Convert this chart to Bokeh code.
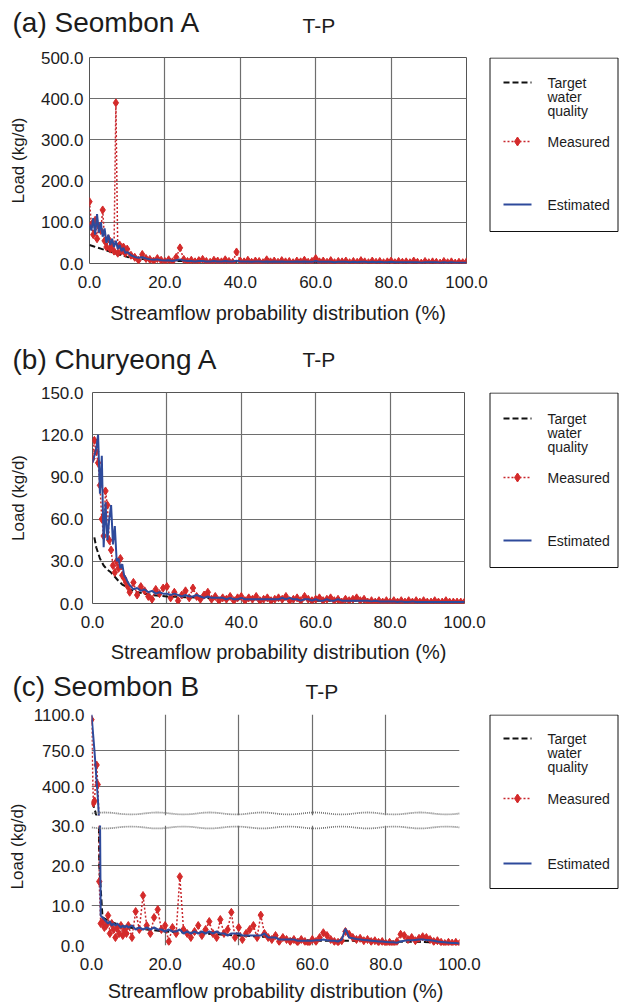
import numpy as np
from bokeh.plotting import figure
from bokeh.layouts import column, row
from bokeh.models import Range1d, FixedTicker, NumeralTickFormatter
from bokeh.core.properties import value
from bokeh.core.validation import silence
from bokeh.core.validation.warnings import MISSING_RENDERERS
from bokeh.embed import file_html
from bokeh.resources import INLINE

silence(MISSING_RENDERERS, True)

FONT = "Liberation Sans"
TEXT = "#1c1c1c"
RED_LINE = "#C8262C"
RED_MARK = "#D42A2A"
BLUE = "#2E4A9B"
GRID = "#6e6e6e"
FRAME = "#555555"

X_TICKS = [0, 20, 40, 60, 80, 100]

# ---------------- streamflow percentiles (%) ----------------
FLOW_AB = [0, 0.5, 1, 1.5, 2, 2.5, 3, 3.5, 4, 4.5, 5, 5.5, 6, 6.5, 7, 7.5, 8, 8.5, 9, 9.5,
           10, 11, 12, 13, 14, 15, 16, 17, 18, 19,
           20, 21, 22, 23, 24, 25, 26, 27, 28, 29,
           30, 31, 32, 33, 34, 35, 36, 37, 38, 39,
           40, 41, 42, 43, 44, 45, 46, 47, 48, 49,
           50, 51, 52, 53, 54, 55, 56, 57, 58, 59,
           60, 61, 62, 63, 64, 65, 66, 67, 68, 69,
           70, 71, 72, 73, 74, 75, 76, 77, 78, 79,
           80, 81, 82, 83, 84, 85, 86, 87, 88, 89,
           90, 91, 92, 93, 94, 95, 96, 97, 98, 99,
           100]

# ---------------- (a) Seombon A, T-P load (kg/d) ----------------
A_MEASURED = [150, 95, 70, 105, 60, 90, 80, 130, 55, 40, 60, 35, 45, 30, 390, 25, 45, 30, 40, 25,
              35, 20, 15, 8, 22, 12, 10, 6, 12, 8,
              5, 9, 4, 15, 38, 10, 5, 8, 4, 7,
              10, 5, 3, 8, 6, 4, 9, 5, 3, 28,
              6, 4, 8, 3, 6, 5, 2, 9, 4, 6,
              3, 7, 4, 5, 2, 6, 4, 8, 3, 5,
              12, 4, 6, 3, 7, 2, 5, 4, 6, 2,
              5, 3, 7, 4, 2, 6, 3, 5, 2, 4,
              6, 2, 5, 3, 4, 2, 6, 3, 1, 5,
              2, 4, 3, 1, 5, 2, 4, 1, 3, 2,
              4]
A_ESTIMATED = [95, 80, 110, 70, 120, 75, 100, 65, 85, 50, 70, 45, 60, 40, 55, 35, 45, 30, 38, 25,
               28, 20, 16, 14, 15, 12, 10, 9, 10, 8,
               7, 8, 6, 8, 10, 7, 6, 6, 5, 6,
               6, 5, 5, 6, 5, 5, 6, 5, 5, 7,
               5, 5, 5, 4, 5, 5, 4, 5, 4, 5,
               4, 5, 4, 4, 4, 5, 4, 5, 4, 4,
               6, 4, 4, 4, 4, 3, 4, 4, 4, 3,
               4, 3, 4, 4, 3, 4, 3, 4, 3, 3,
               4, 3, 3, 3, 3, 3, 3, 3, 2, 3,
               3, 3, 3, 2, 3, 2, 3, 2, 2, 2,
               2]
A_TARGET_X = [0, 1, 2, 3, 4, 5, 6, 7, 8, 9, 10, 12, 14, 16, 18, 20, 25, 30, 40, 50, 60, 70, 80, 90, 100]
A_TARGET = [45, 42, 39, 36, 33, 30, 27, 24, 21, 19, 16, 13, 11, 9, 8, 7, 6, 5, 4, 4, 3, 3, 2, 2, 2]
A_Y_TICKS = [0, 100, 200, 300, 400, 500]

# ---------------- (b) Churyeong A, T-P load (kg/d) ----------------
B_MEASURED = [103, 116, 108, 100, 84, 60, 48, 80, 70, 45, 38, 27, 22, 30, 25, 32, 20, 18, 15, 12,
              8, 15, 6, 12, 9, 5, 3, 10, 7, 11,
              12, 4, 8, 2, 6, 9, 4, 11, 5, 3,
              6, 8, 3, 5, 2, 4, 3, 5, 2, 4,
              5, 2, 4, 3, 5, 2, 3, 4, 2, 3,
              4, 3, 5, 2, 3, 4, 2, 5, 3, 2,
              3, 4, 2, 3, 4, 2, 3, 1, 3, 2,
              3, 4, 2, 3, 1, 2, 1, 2, 1, 2,
              1, 2, 1, 2, 1, 2, 1, 2, 1, 2,
              1, 1, 2, 1, 1, 2, 1, 1, 1, 1,
              1]
B_ESTIMATED = [100, 105, 110, 120, 78, 105, 40, 72, 45, 60, 70, 42, 55, 30, 32, 25, 28, 20, 18, 15,
               13, 10, 11, 9, 10, 8, 9, 7, 8, 7,
               7, 6, 7, 6, 5, 6, 5, 5, 6, 5,
               4, 5, 4, 4, 4, 4, 3, 4, 3, 3,
               4, 3, 3, 3, 3, 3, 3, 3, 3, 3,
               3, 4, 3, 4, 3, 3, 2, 3, 3, 2,
               3, 2, 2, 3, 2, 2, 3, 2, 2, 2,
               2, 2, 2, 2, 2, 1.5, 2, 1.5, 1.5, 1.5,
               1.5, 1.5, 1, 1.5, 1, 1, 1.5, 1, 1, 1,
               1, 1, 1, 1, 1, 1, 1, 1, 1, 1,
               1]
B_TARGET_X = [0.5, 1, 2, 3, 4, 5, 6, 7, 8, 9, 10, 12, 14, 16, 18, 20, 25, 30, 40, 50, 60, 70, 80, 90, 100]
B_TARGET = [47, 40, 32, 27, 24, 22, 19, 16, 13.5, 12, 10, 8, 7, 6, 5.5, 5, 4.5, 4, 3, 3, 2, 2, 1.5, 1, 1]
B_Y_TICKS = [0, 30, 60, 90, 120, 150]

# ---------------- (c) Seombon B, T-P load (kg/d) ----------------
FLOW_C = [0, 0.5, 0.8, 1.4, 1.7, 2.1, 2.5, 3, 3.5, 4, 4.5, 5, 5.5, 6, 6.5, 7, 7.5, 8, 8.5, 9, 9.5,
          10, 11, 12, 13, 14, 15, 16, 17, 18, 19,
          20, 21, 22, 23, 24, 25, 26, 27, 28, 29,
          30, 31, 32, 33, 34, 35, 36, 37, 38, 39,
          40, 41, 42, 43, 44, 45, 46, 47, 48, 49,
          50, 51, 52, 53, 54, 55, 56, 57, 58, 59,
          60, 61, 62, 63, 64, 65, 66, 67, 68, 69,
          70, 71, 72, 73, 74, 75, 76, 77, 78, 79,
          80, 81, 82, 83, 84, 85, 86, 87, 88, 89,
          90, 91, 92, 93, 94, 95, 96, 97, 98, 99,
          100]
C_MEASURED = [1050, 240, 260, 610, 420, 16, 5.5, 6, 4.5, 5, 7.5, 3, 5.5, 4, 2, 4.5, 3, 5, 2.5, 4, 3,
              5, 2, 8.5, 4, 12.5, 5, 3, 7, 9, 4,
              5, 1, 4.5, 3, 17.2, 4, 3, 2, 3.5, 5,
              2.5, 4, 6, 3, 2, 6.5, 3, 4, 8.3, 2,
              4.5, 1.5, 3, 4, 5, 2, 7.6, 3, 2, 1.5,
              2.5, 1, 2, 1.5, 1, 1.5, 0.8, 1.5, 1, 0.5,
              1.5, 1, 2, 3.2, 2.5, 1.5, 1, 0.8, 1.2, 3.5,
              2.8, 2, 1.5, 1.8, 1.2, 1.5, 1, 1.2, 0.8, 1,
              0.5, 0.8, 0.3, 1, 2.8, 2.5, 1.5, 2, 1.2, 1.8,
              2.2, 2, 1.5, 1, 1.2, 0.8, 0.5, 0.8, 0.6, 0.8,
              0.5]
C_ESTIMATED = [1100, 880, 750, 450, 300, 60, 7.5, 7, 6.5, 6, 5.5, 6, 5, 5.5, 5, 5.5, 5, 4.5, 5, 4.5, 5,
               4.5, 5, 4, 4.5, 4, 4.5, 4, 4.5, 4, 4,
               3.5, 4, 3.5, 3.5, 4, 3, 3.5, 3, 3.5, 3,
               3.5, 3, 3.5, 3, 3.5, 3, 3, 2.5, 3, 3,
               3, 2.5, 2.5, 2.5, 2.5, 2.5, 2.5, 3, 2, 2,
               2, 1.5, 1.5, 1.5, 1.5, 1.5, 1.2, 1.2, 1.2, 1.2,
               1.2, 1.3, 1.3, 1.5, 1.3, 1.2, 1.2, 1, 1.5, 4.2,
               2, 1.8, 1.6, 1.5, 1.4, 1.3, 1.2, 1.1, 1, 1,
               0.9, 0.8, 0.8, 0.7, 1, 1.2, 1.3, 1.3, 1.4, 1.5,
               1.5, 1.4, 1.3, 1.2, 1, 0.9, 0.8, 0.7, 0.6, 0.6,
               0.5]
C_TARGET_X = [0.2, 1.1, 2.1, 3, 5, 8, 10, 15, 20, 30, 40, 50, 60, 70, 80, 90, 100]
C_TARGET = [250, 150, 20, 7, 6, 5, 4.5, 4, 3.5, 3, 2.5, 2, 1.2, 1.2, 1, 0.9, 0.5]
C_UPPER_RANGE = (120, 1100)
C_UPPER_TICKS = [400, 750, 1100]
C_LOWER_RANGE = (0, 30)
C_LOWER_TICKS = [0, 10, 20, 30]
C_LOWER_GRID = [0, 10, 20]

LEGEND_TEXT = [["Target", "water", "quality"], "Measured", "Estimated"]

PAGE_W = 622
MAIN_W = 488
LEG_W = PAGE_W - MAIN_W


def blank(width, height, xr, yr, **kw):
    s = figure(width=width, height=height, x_range=xr, y_range=yr,
               x_axis_location=None, y_axis_location=None, toolbar_location=None,
               output_backend="svg", title=None, outline_line_color=None, **kw)
    s.grid.visible = False
    return s


def text_strip(height, items):
    """Strip carrying a panel heading, in top-down pixel coordinates."""
    s = blank(PAGE_W, height, Range1d(0, PAGE_W), Range1d(height, 0), min_border=0)
    for x, y, txt, size in items:
        s.text(x=[x], y=[y], text=[txt], text_font=value(FONT), text_font_size=value(size),
               text_align="left", text_baseline="middle", text_color=TEXT)
    return s


def legend_strip(height, top, bottom, box_bottom, ys):
    """Legend box; its frame shares the plot's vertical borders."""
    frame_h = height - top - bottom
    s = blank(LEG_W, height, Range1d(0, LEG_W), Range1d(frame_h, 0),
              min_border_left=0, min_border_right=0, min_border_top=top, min_border_bottom=bottom)
    s.quad(left=[1.5], right=[129.5], top=[0.5], bottom=[box_bottom],
           fill_color=None, line_color="#111111", line_width=1)
    y_tgt, y_mea, y_est = ys[0], ys[3], ys[4]
    s.line([15, 43], [y_tgt, y_tgt], line_color="#111111", line_width=2, line_dash="6 3")
    s.line([15, 43], [y_mea, y_mea], line_color=RED_LINE, line_width=1.5, line_dash="2 2")
    s.scatter([29], [y_mea], marker="diamond", size=9, fill_color=RED_MARK, line_color=RED_MARK)
    s.line([15, 43], [y_est, y_est], line_color=BLUE, line_width=2)
    words = LEGEND_TEXT[0] + [LEGEND_TEXT[1], LEGEND_TEXT[2]]
    s.text(x=[59] * len(words), y=ys, text=words, text_font=value(FONT),
           text_font_size=value("14px"), text_baseline="middle", text_color=TEXT)
    return s


def chart(width, height, y_rng, yticks, left, right, top, bottom,
          show_x=True, ylabel=None, grid_y=None, outline=True, ystand=6, xlab_stand=7):
    p = figure(width=width, height=height, x_range=Range1d(0, 100), y_range=Range1d(*y_rng),
               toolbar_location=None, output_backend="svg", title=None,
               x_axis_location="below" if show_x else None,
               min_border_left=left, min_border_right=right,
               min_border_top=top, min_border_bottom=bottom)
    p.outline_line_color = FRAME if outline else None
    p.xgrid.ticker = FixedTicker(ticks=X_TICKS)
    p.ygrid.ticker = FixedTicker(ticks=grid_y if grid_y is not None else yticks)
    p.grid.grid_line_color = GRID
    p.grid.grid_line_width = 1.2
    p.yaxis.ticker = FixedTicker(ticks=yticks)
    for ax in p.xaxis:
        ax.ticker = FixedTicker(ticks=X_TICKS)
        ax.axis_label = "Streamflow probability distribution (%)"
        ax.axis_label_text_font_size = "20px"
        ax.major_label_standoff = 12
        ax.axis_label_standoff = xlab_stand
    for ax in p.axis:
        ax.formatter = NumeralTickFormatter(format="0.0")
        ax.major_label_text_font = FONT
        ax.major_label_text_font_size = "17px"
        ax.major_label_text_color = TEXT
        ax.axis_line_color = None
        ax.major_tick_line_color = None
        ax.minor_tick_line_color = None
        ax.major_tick_out = 0
        ax.major_tick_in = 0
        ax.minor_tick_out = 0
        ax.minor_tick_in = 0
        ax.axis_label_text_font = FONT
        ax.axis_label_text_font_style = "normal"
        ax.axis_label_text_color = TEXT
    for ax in p.yaxis:
        ax.major_label_standoff = ystand
        if ylabel:
            ax.axis_label = ylabel
            ax.axis_label_text_font_size = "17px"
            ax.axis_label_standoff = 10
    return p


def draw_series(p, x, measured, estimated, tx, target):
    p.line(tx, target, line_color="#111111", line_width=2, line_dash="6 3")
    p.line(x, measured, line_color=RED_LINE, line_width=1.5, line_dash="2 2")
    p.scatter(x, measured, marker="diamond", size=8, fill_color=RED_MARK, line_color=RED_MARK)
    p.line(x, estimated, line_color=BLUE, line_width=2)


# ---------------- (a) ----------------
title_a = text_strip(40, [(12, 22, "(a) Seombon A", "28px"), (302, 25, "T-P", "21px")])
fig_a = chart(MAIN_W, 295, (0, 500), A_Y_TICKS, 89, MAIN_W - 466, 17, 72,
              ylabel="Load (kg/d)", xlab_stand=11)
draw_series(fig_a, FLOW_AB, A_MEASURED, A_ESTIMATED, A_TARGET_X, A_TARGET)
leg_a = legend_strip(295, 17, 72, 174, [25, 39, 53, 84, 147])

# ---------------- (b) ----------------
title_b = text_strip(40, [(12, 24, "(b) Churyeong A", "28px"), (302, 24, "T-P", "21px")])
fig_b = chart(MAIN_W, 295, (0, 150), B_Y_TICKS, 92, MAIN_W - 464, 17, 67,
              ylabel="Load (kg/d)", ystand=9, xlab_stand=10)
draw_series(fig_b, FLOW_AB, B_MEASURED, B_ESTIMATED, B_TARGET_X, B_TARGET)
leg_b = legend_strip(295, 17, 67, 175, [26, 40, 54, 85, 148])

# ---------------- (c) with a broken y axis ----------------
title_c = text_strip(34, [(12, 16, "(c) Seombon B", "28px"), (305, 21, "T-P", "21px")])
YLAB_W = 28
ROW_C_H = 300
UP_H, UP_TOP, UP_BOTTOM = 112, 10, 1
LOW_H, LOW_TOP, LOW_BOTTOM = ROW_C_H - UP_H, 9, 56
ylab_c = blank(YLAB_W, ROW_C_H, Range1d(0, YLAB_W), Range1d(0, ROW_C_H - UP_TOP - LOW_BOTTOM),
               min_border_left=0, min_border_right=0,
               min_border_top=UP_TOP, min_border_bottom=LOW_BOTTOM)
ylab_c.text(x=[17], y=[102], text=["Load (kg/d)"], angle=np.pi / 2, text_font=value(FONT),
            text_font_size=value("17px"), text_align="center", text_baseline="middle",
            text_color=TEXT)

c_w = MAIN_W - YLAB_W
up_c = chart(c_w, UP_H, C_UPPER_RANGE, C_UPPER_TICKS, 91 - YLAB_W, MAIN_W - 459, UP_TOP, UP_BOTTOM,
             show_x=False, outline=False, ystand=7)
low_c = chart(c_w, LOW_H, C_LOWER_RANGE, C_LOWER_TICKS, 91 - YLAB_W, MAIN_W - 459, LOW_TOP, LOW_BOTTOM,
              grid_y=C_LOWER_GRID, outline=False, ystand=7, xlab_stand=7)
for p in (up_c, low_c):
    draw_series(p, FLOW_C, C_MEASURED, C_ESTIMATED, C_TARGET_X, C_TARGET)

# wavy break marks along the seam between the two y scales
up_frame = UP_H - UP_TOP - UP_BOTTOM
low_frame = LOW_H - LOW_TOP - LOW_BOTTOM
wave_x = np.linspace(-1, 101, 400)
wave = np.sin(wave_x / 100 * 2 * np.pi * 7)
up_px = (C_UPPER_RANGE[1] - C_UPPER_RANGE[0]) / up_frame
low_px = (C_LOWER_RANGE[1] - C_LOWER_RANGE[0]) / low_frame
up_c.line(wave_x, C_UPPER_RANGE[0] + (2 + 1.0 * wave) * up_px,
          line_color="#777777", line_width=1.8, line_dash="1 1")
low_c.line(wave_x, C_LOWER_RANGE[1] - (2 + 1.0 * wave) * low_px,
           line_color="#777777", line_width=1.8, line_dash="1 1")
leg_c = legend_strip(ROW_C_H, UP_TOP, LOW_BOTTOM, 174, [24, 38, 52, 84, 149])

page = column(
    title_a, row(fig_a, leg_a, spacing=0),
    title_b, row(fig_b, leg_b, spacing=0),
    title_c, row(ylab_c, column(up_c, low_c, spacing=0), leg_c, spacing=0),
    spacing=0,
)

open("out.html", "w").write(file_html(page, INLINE))
